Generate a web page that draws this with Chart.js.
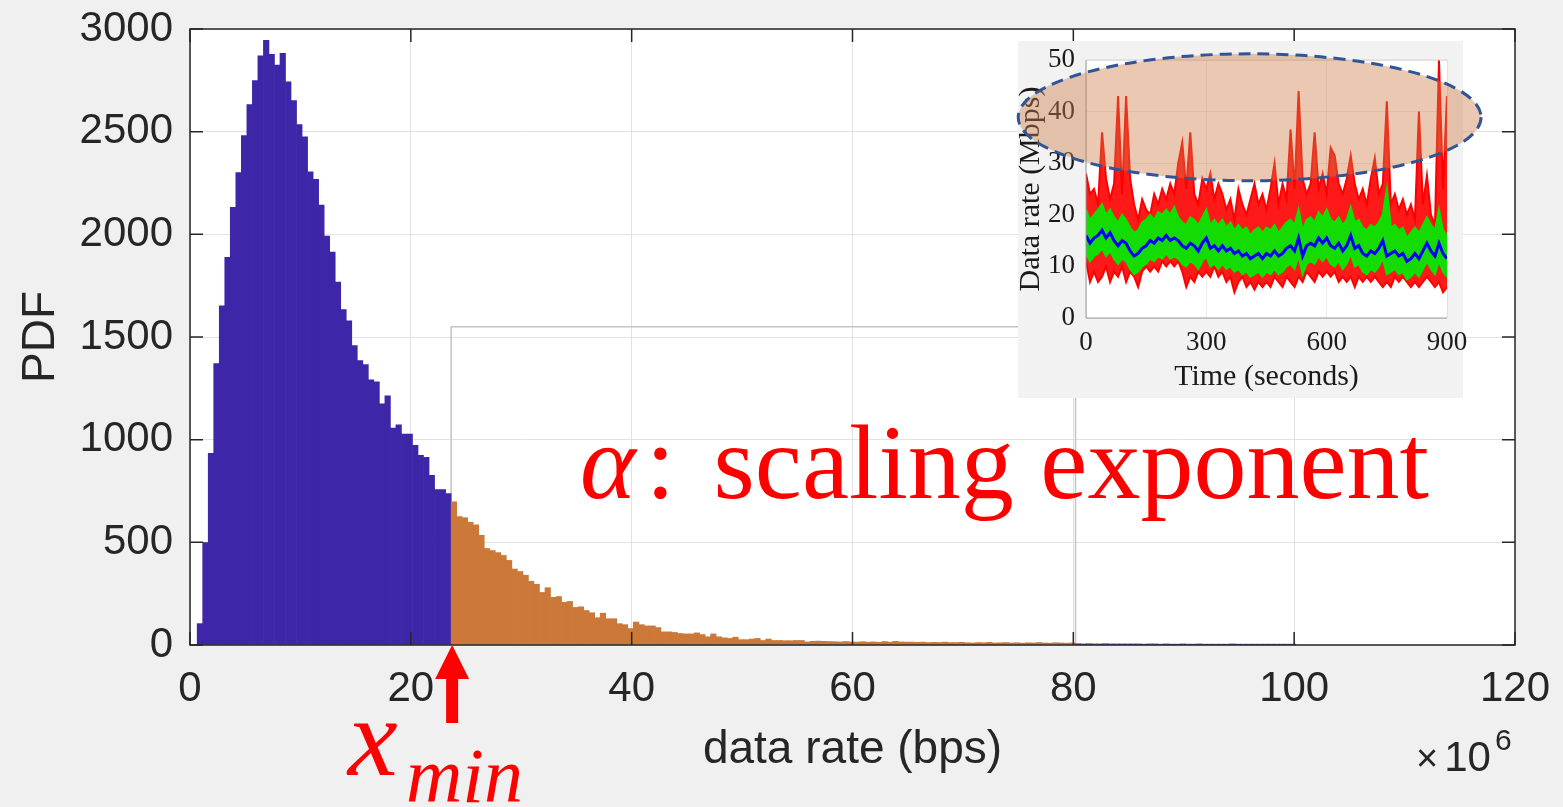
<!DOCTYPE html>
<html>
<head>
<meta charset="utf-8">
<script src="https://cdn.jsdelivr.net/npm/chart.js@4.4.0/dist/chart.umd.min.js"></script>
<style>
    html, body { margin: 0; padding: 0; background: #f0f0f0; overflow: hidden; }
    #wrap { position: relative; width: 1563px; height: 807px; }
    #mainChart { position: absolute; left: 0; top: 0; }
    #insetChart { position: absolute; left: 1010px; top: 35px; }
    .ann { position: absolute; color: #ff0000; font-family: 'Liberation Serif', 'Times New Roman', serif; white-space: nowrap; line-height: 1; }
    #alphaText { left: 580px; top: 410px; font-size: 106px; }
    #alphaText .al { font-style: italic; margin-right: 10px; }
    #alphaText .gap { margin-left: 12px; }
    #xminText { left: 0; top: 0; }
    #xminText .xv { position: absolute; left: 348px; top: 681px; font-size: 112px; font-style: italic; }
    #xminText .sub { position: absolute; left: 406px; top: 737px; font-size: 78px; font-style: italic; }
    #expText { position: absolute; left: 1416px; top: 736px; font-family: 'Liberation Sans', Arial, sans-serif; font-size: 42px; line-height: 1; color: #262626; white-space: nowrap; }
    #expText .times { font-size: 38px; margin-right: 6px; }
    #expText sup { font-size: 30px; vertical-align: 21px; line-height: 0; margin-left: 4px; }
</style>
</head>
<body>
<div id="wrap">
    <canvas id="mainChart" width="1563" height="807"></canvas>
    <canvas id="insetChart" width="480" height="370"></canvas>
    <div class="ann" id="alphaText"><span class="al">α</span>:<span class="gap"> </span>scaling exponent</div>
    <div class="ann" id="xminText"><span class="xv">x</span><span class="sub">min</span></div>
    <div id="expText"><span class="times">×</span>10<sup>6</sup></div>
</div>
<script>
// ---- main histogram (data rate, units of 1e6 bps) ----
const binWidth = 0.5;
const blueStart = 0.65;     // first bin edge
const xMin = 23.65;         // where the fitted tail starts
const tailEnd = 80.15;

const blueCounts = [104, 499, 933, 1370, 1652, 1888, 2131, 2301, 2481, 2632,
    2749, 2869, 2945, 2877, 2824, 2882, 2743, 2652, 2534, 2475,
    2305, 2268, 2143, 1992, 1914, 1767, 1634, 1579, 1458, 1385,
    1366, 1292, 1282, 1174, 1213, 1057, 1072, 1027, 1027, 973,
    924, 914, 826, 757, 757, 738];

const tailCounts = [697, 625, 620, 598, 585, 534, 470, 460, 450, 436,
    412, 370, 358, 340, 310, 296, 256, 279, 232, 236,
    208, 212, 183, 186, 168, 157, 133, 155, 128, 128,
    104, 99, 80, 112, 99, 93, 93, 85, 64, 64,
    61, 56, 54, 54, 59, 51, 40, 54, 40, 35,
    32, 38, 26, 26, 29, 32, 22, 29, 22, 22,
    21, 21, 22, 22, 15, 18, 19, 18, 17, 16,
    15, 17, 15, 14, 16, 14, 15, 13, 17, 14,
    18, 15, 14, 14, 13, 14, 12, 13, 12, 14,
    12, 12, 13, 11, 10, 12, 11, 13, 10, 11,
    12, 10, 11, 9, 11, 10, 12, 10, 9, 11,
    10, 9, 10];

const farCounts = [6, 5, 6, 5, 5, 6, 5, 5, 5, 5,
    5, 5, 4, 5, 5, 4, 5, 4, 4, 5,
    4, 4, 5, 4, 4, 4, 4, 4, 5, 4,
    4, 4, 4, 4, 4, 4, 4, 4, 4, 4];

const xTicks = [0, 20, 40, 60, 80, 100, 120];
const yTicks = [0, 500, 1000, 1500, 2000, 2500, 3000];
const panelBox = [23.65, 80.2, 1550];   // outline of the pasted tail panel

// ---- inset: data rate over time (Mbps) ----
const insetTimes = Array.from({ length: 91 }, (_, i) => i * 10);
const insetXTicks = [0, 300, 600, 900];
const insetYTicks = [0, 10, 20, 30, 40, 50];
const redUpper = [28, 24, 25, 22, 36, 27, 23, 26, 43, 24,
    43, 27, 22, 19, 23, 21, 20, 24, 22, 25,
    23, 26, 24, 30, 34, 25, 36, 24, 22, 27,
    25, 28, 23, 26, 24, 21, 23, 19, 25, 22,
    20, 23, 26, 22, 24, 21, 25, 30, 22, 26,
    23, 36.5, 25, 44, 27, 24, 26, 36, 25, 28,
    24, 33, 31.5, 26, 24, 27, 31.5, 26, 23, 25,
    22, 27, 31, 24, 26, 42, 22, 24, 21, 23,
    20, 22, 19, 40, 22, 27.6, 20, 18, 50, 25,
    43];
const redLower = [11, 7, 9, 7, 8, 10, 7, 9, 8, 10,
    7, 9, 8, 6, 9, 10, 9, 10, 9, 11,
    10, 11, 10, 11, 9, 6, 8, 7, 9, 8,
    9, 8, 10, 8, 9, 7, 8, 5, 7, 8,
    6, 7, 5.5, 7, 6, 7, 6, 8, 7, 6,
    8, 7, 6, 8, 7, 9, 8, 7, 9, 8,
    9, 8, 9, 7, 8, 7, 8, 6, 8, 7,
    8, 7, 8, 7, 6, 7, 6, 8, 7, 8,
    7, 6, 7, 6, 7, 8, 7, 6, 7, 5,
    6];
const greenUpper = [21, 19, 20, 21, 22, 20, 21, 19.5, 18.5, 20,
    19, 17.5, 16.5, 17, 18.5, 19, 20, 19, 20.5, 20,
    21, 20, 21.5, 19.5, 18.5, 18, 19.5, 19, 18, 19.5,
    21, 18, 19, 18, 19, 17.5, 18.5, 17, 18, 17,
    17.5, 16, 17, 17.5, 16.5, 17.5, 17, 18, 16.5, 17.5,
    18.5, 19, 18, 21, 17, 19, 19.5, 18.5, 20.5, 19.5,
    21, 19, 18.5, 19.5, 18, 19, 21.5, 18.5, 19, 17.5,
    17, 18, 17.5, 18.5, 20, 25, 17.5, 18, 17, 17.5,
    15.5, 16.5, 17.5, 16.5, 18, 19.5, 18, 17, 21, 17,
    16];
const greenLower = [12.5, 11, 12, 12.5, 13.5, 12, 13, 11.5, 10.5, 11.5,
    11, 9.5, 8.5, 9, 10, 10.5, 11.5, 11, 12, 11.5,
    12.5, 11.5, 12, 11.5, 10.5, 10, 11, 10.5, 9.5, 11,
    12, 10, 10.5, 9.5, 10.5, 9.5, 10, 9, 9.5, 8.5,
    9, 8, 8.5, 9, 8, 9, 8.5, 9.5, 8.5, 9,
    10, 10.5, 9.5, 12, 8.5, 10.5, 11, 10.5, 12, 11,
    12, 10.5, 10, 11, 9.5, 10.5, 12.5, 10, 10.5, 9,
    8.5, 9.5, 9, 10, 11.5, 8.5, 9, 9.5, 8.5, 9,
    7.5, 8, 9, 8, 9.5, 11, 9.5, 8.5, 11, 9,
    8];
const blueMean = [16, 14.5, 15.5, 16, 17, 15.5, 16.5, 15, 14, 15,
    14.5, 13, 12, 12.5, 13.5, 14, 15, 14.5, 15.5, 15,
    16, 15, 15.5, 15, 14, 13.5, 14.5, 14, 13, 14.5,
    15.5, 13.5, 14, 13, 14, 13, 13.5, 12.5, 13, 12,
    12.5, 11.5, 12, 12.5, 11.5, 12.5, 12, 13, 12, 12.5,
    13.5, 14, 13, 15.5, 12, 14, 14.5, 14, 15.5, 14.5,
    15.5, 14, 13.5, 14.5, 13, 14, 16, 13.5, 14, 12.5,
    12, 13, 12.5, 13.5, 15, 12, 12.5, 13, 12, 12.5,
    11, 11.5, 12.5, 11.5, 13, 14.5, 13, 12, 14.5, 12.5,
    11.5];

const AXIS_COLOR = '#262626';
const SANS = "'Liberation Sans', Arial, Helvetica, sans-serif";
const SERIF = "'Liberation Serif', 'Times New Roman', serif";

function binsFrom(start, counts) {
    return counts.map((c, i) => ({ x: start + binWidth * (i + 0.5), y: c }));
}

// pin the plot box: drop the label overflow padding chart.js adds
function pinX(h) {
    return s => { s.height = h; s.paddingLeft = 0; s.paddingRight = 0; };
}
function pinY(w) {
    return s => { s.width = w; s.paddingTop = 0; s.paddingBottom = 0; };
}

function drawInwardTicks(chart, len, color, width) {
    const { ctx, chartArea: a, scales } = chart;
    ctx.save();
    ctx.strokeStyle = color;
    ctx.lineWidth = width;
    ctx.beginPath();
    scales.x.ticks.forEach(t => {
        const px = scales.x.getPixelForValue(t.value);
        ctx.moveTo(px, a.bottom); ctx.lineTo(px, a.bottom - len);
        ctx.moveTo(px, a.top); ctx.lineTo(px, a.top + len);
    });
    scales.y.ticks.forEach(t => {
        const py = scales.y.getPixelForValue(t.value);
        ctx.moveTo(a.left, py); ctx.lineTo(a.left + len, py);
        ctx.moveTo(a.right, py); ctx.lineTo(a.right - len, py);
    });
    ctx.stroke();
    ctx.restore();
}

const mainDecor = {
    id: 'mainDecor',
    beforeDraw(chart) {
        const { ctx, chartArea: a } = chart;
        ctx.save();
        ctx.fillStyle = '#ffffff';
        ctx.fillRect(a.left, a.top, a.right - a.left, a.bottom - a.top);
        ctx.restore();
    },
    beforeDatasetsDraw(chart) {
        const { ctx, scales: { x, y } } = chart;
        const x0 = x.getPixelForValue(panelBox[0]);
        const x1 = x.getPixelForValue(panelBox[1]);
        const yt = y.getPixelForValue(panelBox[2]);
        const yb = y.getPixelForValue(0);
        ctx.save();
        ctx.strokeStyle = '#c4c4c4';
        ctx.lineWidth = 1.5;
        ctx.beginPath();
        ctx.moveTo(x0, yb); ctx.lineTo(x0, yt); ctx.lineTo(x1, yt); ctx.lineTo(x1, yb);
        ctx.stroke();
        ctx.restore();
    },
    afterDraw(chart) {
        const { ctx, chartArea: a, scales: { x } } = chart;
        ctx.save();
        ctx.strokeStyle = AXIS_COLOR;
        ctx.lineWidth = 1.5;
        ctx.strokeRect(a.left, a.top, a.right - a.left, a.bottom - a.top);
        ctx.restore();
        drawInwardTicks(chart, 13, AXIS_COLOR, 1.5);

        // red arrow marking x_min
        const px = x.getPixelForValue(xMin) + 1;
        const tip = a.bottom;
        ctx.save();
        ctx.fillStyle = '#ff0000';
        ctx.beginPath();
        ctx.moveTo(px, tip);
        ctx.lineTo(px + 17, tip + 34);
        ctx.lineTo(px + 6, tip + 34);
        ctx.lineTo(px + 6, tip + 78);
        ctx.lineTo(px - 6, tip + 78);
        ctx.lineTo(px - 6, tip + 34);
        ctx.lineTo(px - 17, tip + 34);
        ctx.closePath();
        ctx.fill();
        ctx.restore();
    }
};

new Chart(document.getElementById('mainChart'), {
    type: 'bar',
    data: {
        datasets: [
            { label: 'tail', data: binsFrom(xMin, tailCounts), backgroundColor: '#cc7838', order: 0 },
            { label: 'body', data: binsFrom(blueStart, blueCounts), backgroundColor: '#3e26a8', order: 1 },
            { label: 'far', data: binsFrom(tailEnd, farCounts), backgroundColor: '#3e26a8', order: 2 }
        ]
    },
    options: {
        responsive: false,
        animation: false,
        grouped: false,
        barPercentage: 1,
        categoryPercentage: 1,
        borderWidth: 0,
        layout: { padding: { left: 0, right: 48, top: 29, bottom: 0 } },
        plugins: { legend: { display: false }, tooltip: { enabled: false } },
        scales: {
            x: {
                type: 'linear', min: 0, max: 120, offset: false,
                afterBuildTicks: s => { s.ticks = xTicks.map(v => ({ value: v })); },
                afterFit: pinX(162),
                grid: { color: '#e2e2e2', drawTicks: false, offset: false },
                border: { display: false },
                ticks: { color: AXIS_COLOR, font: { family: SANS, size: 42 }, padding: 19, maxRotation: 0, callback: v => String(v) },
                title: { display: true, text: 'data rate (bps)', color: AXIS_COLOR, font: { family: SANS, size: 46 }, padding: { top: 0, bottom: 29 } }
            },
            y: {
                min: 0, max: 3000,
                afterBuildTicks: s => { s.ticks = yTicks.map(v => ({ value: v })); },
                afterFit: pinY(190),
                grid: { color: '#e2e2e2', drawTicks: false },
                border: { display: false },
                ticks: { color: AXIS_COLOR, font: { family: SANS, size: 42 }, padding: 17, callback: v => String(v) },
                title: { display: true, text: 'PDF', color: AXIS_COLOR, font: { family: SANS, size: 46 }, padding: { top: 14, bottom: 0 } }
            }
        }
    },
    plugins: [mainDecor]
});

// ---- inset chart ----
const insetDecor = {
    id: 'insetDecor',
    beforeDraw(chart) {
        const { ctx, chartArea: a } = chart;
        ctx.save();
        ctx.fillStyle = '#f2f2f2';
        ctx.fillRect(8, 6, 445, 357);
        ctx.fillStyle = '#ffffff';
        ctx.fillRect(a.left, a.top, a.right - a.left, a.bottom - a.top);
        ctx.restore();
    },
    afterDraw(chart) {
        const { ctx, chartArea: a, scales: { x, y } } = chart;
        ctx.save();
        ctx.strokeStyle = '#9a9a9a';
        ctx.lineWidth = 1;
        ctx.beginPath();
        ctx.moveTo(a.left, a.top); ctx.lineTo(a.left, a.bottom); ctx.lineTo(a.right, a.bottom);
        ctx.stroke();
        ctx.strokeStyle = '#d6d6d6';
        ctx.beginPath();
        ctx.moveTo(a.left, a.top); ctx.lineTo(a.right, a.top);
        ctx.stroke();
        ctx.restore();

        // highlighted burst region
        const cx = x.getPixelForValue(408);
        const cy = y.getPixelForValue(38.9);
        const rx = x.getPixelForValue(408 + 577) - cx;
        const ry = cy - y.getPixelForValue(38.9 + 12.3);
        ctx.save();
        ctx.beginPath();
        ctx.ellipse(cx, cy, rx, ry, 0, 0, Math.PI * 2);
        ctx.fillStyle = 'rgba(205,125,70,0.42)';
        ctx.fill();
        ctx.setLineDash([12, 7]);
        ctx.lineWidth = 3;
        ctx.strokeStyle = '#2f5597';
        ctx.stroke();
        ctx.restore();
    }
};

function series(vals) {
    return vals.map((v, i) => ({ x: insetTimes[i], y: v }));
}

new Chart(document.getElementById('insetChart'), {
    type: 'line',
    data: {
        datasets: [
            { data: series(redUpper), borderColor: '#ff0000', backgroundColor: 'rgba(255,0,0,0.9)', fill: '+1', borderWidth: 2, order: 2 },
            { data: series(redLower), borderColor: '#ff0000', borderWidth: 2, fill: false, order: 2 },
            { data: series(greenUpper), borderColor: '#00e600', backgroundColor: 'rgba(0,235,0,0.92)', fill: '+1', borderWidth: 2, order: 1 },
            { data: series(greenLower), borderColor: '#00e600', borderWidth: 2, fill: false, order: 1 },
            { data: series(blueMean), borderColor: '#0000ff', borderWidth: 3, fill: false, order: 0 }
        ]
    },
    options: {
        responsive: false,
        animation: false,
        elements: { point: { radius: 0 }, line: { tension: 0 } },
        layout: { padding: { left: 0, right: 43, top: 25, bottom: 0 } },
        plugins: { legend: { display: false }, tooltip: { enabled: false } },
        scales: {
            x: {
                type: 'linear', min: 0, max: 900,
                afterBuildTicks: s => { s.ticks = insetXTicks.map(v => ({ value: v })); },
                afterFit: pinX(87),
                ticks: { color: '#1a1a1a', font: { family: SERIF, size: 27 }, padding: 9, maxRotation: 0 },
                grid: { color: 'rgba(0,0,0,0.07)', drawTicks: false },
                border: { display: false },
                title: { display: true, text: 'Time (seconds)', color: '#1a1a1a', font: { family: SERIF, size: 30 }, padding: { top: 0, bottom: 10 } }
            },
            y: {
                min: 0, max: 50,
                afterBuildTicks: s => { s.ticks = insetYTicks.map(v => ({ value: v })); },
                afterFit: pinY(76),
                ticks: { color: '#1a1a1a', font: { family: SERIF, size: 27 }, padding: 11 },
                grid: { color: 'rgba(0,0,0,0.07)', drawTicks: false },
                border: { display: false },
                title: { display: true, text: 'Data rate (Mbps)', color: '#1a1a1a', font: { family: SERIF, size: 30 }, padding: { top: 3, bottom: 0 } }
            }
        }
    },
    plugins: [insetDecor]
});
</script>
</body>
</html>
